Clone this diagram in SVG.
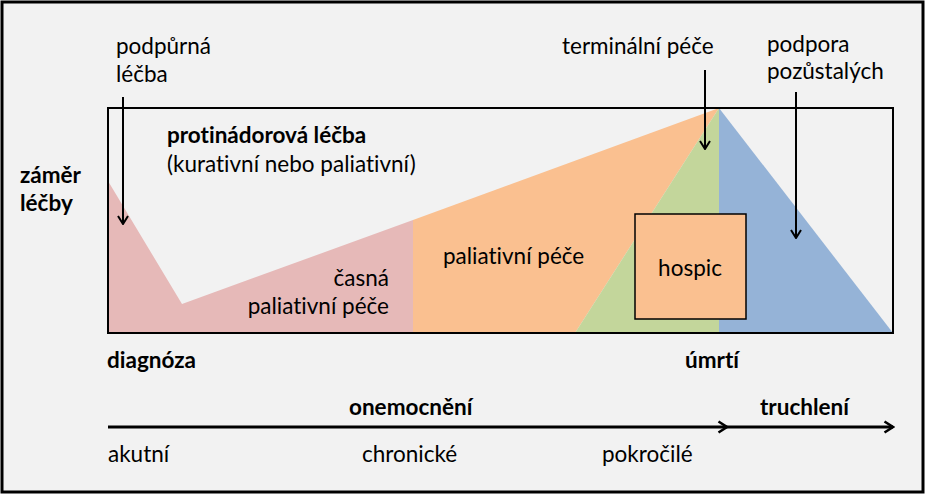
<svg xmlns="http://www.w3.org/2000/svg" width="926" height="495" viewBox="0 0 926 495">
<style>
text{font-family:Lato,"Open Sans","Liberation Sans",sans-serif;font-size:22.5px;fill:#000;font-variant-ligatures:none;font-feature-settings:"liga" 0,"dlig" 0}
.b{font-weight:bold}
.ar{stroke:#000;stroke-width:2;fill:none}
.tl{stroke:#000;stroke-width:3;fill:none}
</style>
<defs>
<marker id="ah" viewBox="0 0 10 12" refX="9" refY="6" markerWidth="10" markerHeight="12" markerUnits="userSpaceOnUse" orient="auto">
<path d="M1,1 L9,6 L1,11" fill="none" stroke="#000" stroke-width="2"/>
</marker>
<marker id="ah2" viewBox="0 0 12 14" refX="10" refY="7" markerWidth="12" markerHeight="14" markerUnits="userSpaceOnUse" orient="auto">
<path d="M1.5,1.5 L10,7 L1.5,12.5" fill="none" stroke="#000" stroke-width="2.6"/>
</marker>
</defs>
<rect x="2" y="2" width="921" height="490" fill="#f2f2f2" stroke="#000" stroke-width="3"/>
<g id="phases">
<polygon id="early" points="108,181 182,304 413,220 413,333 108,333" fill="#e6b9b8"/>
<polygon id="palliative" points="413,220 719,108 575,333 413,333" fill="#fac090"/>
<polygon id="terminal" points="575,333 719,108 719,333" fill="#c3d69b"/>
<polygon id="bereavement" points="719,108 893,333 719,333" fill="#95b3d7"/>
</g>
<rect id="frame" x="108" y="108" width="785" height="225" fill="none" stroke="#000" stroke-width="2"/>
<g id="hospic">
<rect x="635" y="214" width="111" height="105" fill="#fac090" stroke="#000" stroke-width="1.5"/>
<text x="690" y="276" text-anchor="middle">hospic</text>
</g>
<g id="connectors">
<line class="ar" x1="123" y1="97" x2="123" y2="224" marker-end="url(#ah)"/>
<line class="ar" x1="705" y1="70" x2="705" y2="149" marker-end="url(#ah)"/>
<line class="ar" x1="796" y1="92" x2="796" y2="238" marker-end="url(#ah)"/>
<line class="tl" x1="108" y1="427" x2="727" y2="427" marker-end="url(#ah2)"/>
<line class="tl" x1="727" y1="427" x2="893" y2="427" marker-end="url(#ah2)"/>
</g>
<g id="labels">
<text x="116" y="54">podpůrná</text>
<text x="116" y="82">léčba</text>
<text class="b" x="167" y="143">protinádorová léčba</text>
<text x="167" y="172">(kurativní nebo paliativní)</text>
<text class="b" x="20" y="183">záměr</text>
<text class="b" x="20" y="211">léčby</text>
<text x="389" y="286" text-anchor="end">časná</text>
<text x="389" y="314" text-anchor="end">paliativní péče</text>
<text x="443" y="264">paliativní péče</text>
<text x="562" y="54">terminální péče</text>
<text x="767" y="52">podpora</text>
<text x="767" y="79">pozůstalých</text>
<text class="b" x="107" y="368">diagnóza</text>
<text class="b" x="685" y="368">úmrtí</text>
<text class="b" x="349" y="415">onemocnění</text>
<text class="b" x="760" y="415">truchlení</text>
<text x="108" y="462">akutní</text>
<text x="362" y="462">chronické</text>
<text x="602" y="462">pokročilé</text>
</g>
</svg>
